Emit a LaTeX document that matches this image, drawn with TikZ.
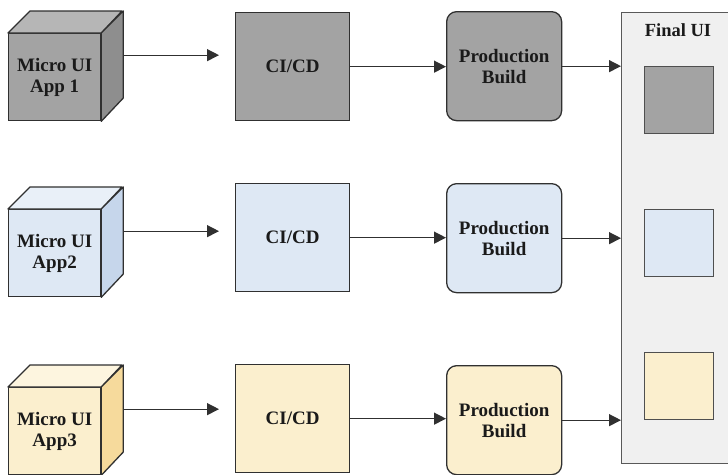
\documentclass[tikz,border=0pt]{standalone}
\usepackage{fontspec}
\setmainfont{Liberation Serif}
\usetikzlibrary{arrows.meta}
\definecolor{edge}{HTML}{303030}
\definecolor{gfront}{HTML}{A3A3A3}
\definecolor{gtop}{HTML}{B6B6B6}
\definecolor{gside}{HTML}{8E8E8E}
\definecolor{bfront}{HTML}{DEE8F4}
\definecolor{btop}{HTML}{E9F0F8}
\definecolor{bside}{HTML}{C6D6EB}
\definecolor{yfront}{HTML}{FBEFCE}
\definecolor{ytop}{HTML}{FDF5DF}
\definecolor{yside}{HTML}{F6DA9C}
\definecolor{panel}{HTML}{F0F0F0}
\definecolor{ink}{HTML}{1A1A1A}
\begin{document}
\begin{tikzpicture}[x=1pt,y=-1pt,
 font=\fontsize{19}{21}\selectfont\bfseries,
 every node/.style={text=ink},
 face/.style={draw=edge, line width=1.3pt, minimum width=92pt, minimum height=87pt, inner sep=0pt, align=center, anchor=north west},
 cicd/.style={draw=edge, line width=1.3pt, minimum width=114pt, minimum height=108pt, inner sep=0pt, anchor=north west},
 prod/.style={draw=edge, line width=1.3pt, rounded corners=10pt, minimum width=115pt, minimum height=109pt, inner sep=0pt, align=center, anchor=north west},
 mini/.style={draw=edge!85, line width=1.3pt, minimum width=69pt, minimum height=67pt, anchor=north west, inner sep=0pt},
 flow/.style={draw=edge, line width=1.3pt, -{Triangle[length=12pt,width=12pt]}},
 cubeface/.style={draw=edge, line width=1.3pt, line join=round}
]
\useasboundingbox (0,0) rectangle (728,474);
\clip (0,0) rectangle (728,474);

% Final UI panel
\node[draw=edge!80, line width=1.3pt, fill=panel, anchor=north west, minimum width=130pt, minimum height=451pt, inner sep=0pt] (final) at (621,12) {};
\node[font=\fontsize{18.5}{20}\selectfont\bfseries] (ftitle) at (678,30) {Final UI};
\node[mini, fill=gfront] (m1) at (644,66) {};
\node[mini, fill=bfront] (m2) at (644,209) {};
\node[mini, fill=yfront] (m3) at (644,352) {};

% cubes
\foreach \i/\y/\fc/\tc/\sc/\txt in {1/33/gfront/gtop/gside/{Micro UI\\App 1}, 2/209/bfront/btop/bside/{Micro UI\\App2}, 3/387/yfront/ytop/yside/{Micro UI\\App3}}{
  \node[face, fill=\fc] (c\i) at (8,\y) {\txt};
  \filldraw[cubeface, fill=\tc] (c\i.north west) -- ++(22,-22) -- ++(92,0) -- (c\i.north east) -- cycle;
  \filldraw[cubeface, fill=\sc] (c\i.north east) -- ++(22,-22) -- ++(0,87) -- (c\i.south east) -- cycle;
  \coordinate (c\i s) at ([shift={(22,-22)}]c\i.east);
}

% CI/CD
\node[cicd, fill=gfront] (ci1) at (235,12) {CI/CD};
\node[cicd, fill=bfront] (ci2) at (235,183) {CI/CD};
\node[cicd, fill=yfront] (ci3) at (235,364) {CI/CD};

% Production builds
\node[prod, fill=gfront] (pb1) at (446,11) {Production\\Build};
\node[prod, fill=bfront] (pb2) at (446,183) {Production\\Build};
\node[prod, fill=yfront] (pb3) at (446,365) {Production\\Build};

% connectors
\foreach \i in {1,2,3}{
  \draw[flow, shorten >=16pt] (c\i s) -- (c\i s -| ci\i.west);
  \draw[flow] (ci\i.east) -- (ci\i.east -| pb\i.west);
  \draw[flow] (pb\i.east) -- (pb\i.east -| final.west);
}
\end{tikzpicture}
\end{document}
